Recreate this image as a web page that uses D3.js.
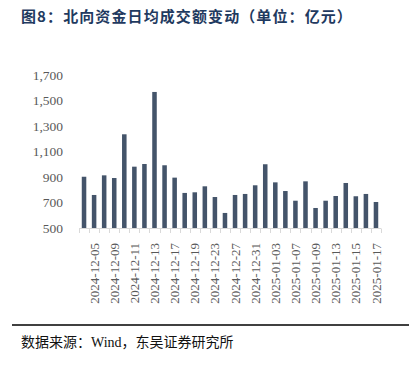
<!DOCTYPE html>
<html>
<head>
<meta charset="utf-8">
<script src="https://cdn.jsdelivr.net/npm/d3@7"></script>
<style>
  body { margin: 0; background: #fff; }
  svg { display: block; }
</style>
</head>
<body>
<div id="chart"></div>
<script>
// trading days (northbound), labels shown every other day
var dates = ["2024-12-04","2024-12-05","2024-12-06","2024-12-09","2024-12-10","2024-12-11",
  "2024-12-12","2024-12-13","2024-12-16","2024-12-17","2024-12-18","2024-12-19",
  "2024-12-20","2024-12-23","2024-12-24","2024-12-27","2024-12-30","2024-12-31",
  "2025-01-02","2025-01-03","2025-01-06","2025-01-07","2025-01-08","2025-01-09",
  "2025-01-10","2025-01-13","2025-01-14","2025-01-15","2025-01-16","2025-01-17"];
var turnover = [902, 759, 913, 892, 1235, 981, 1002, 1567, 992, 895, 775, 780,
  827, 743, 618, 759, 767, 835, 1000, 858, 790, 714, 866, 657,
  714, 751, 853, 749, 767, 704];
var yTicks = [500, 700, 900, 1100, 1300, 1500, 1700];

var W = 420, H = 365;
var svg = d3.select("#chart").append("svg")
  .attr("width", W)
  .attr("height", H);

// title
svg.append("text")
  .attr("x", 21)
  .attr("y", 22)
  .style("font-family", "'Noto Sans CJK SC', sans-serif")
  .style("font-weight", "bold")
  .style("font-size", "15px")
  .style("letter-spacing", "1.1px")
  .style("fill", "#1f3a60")
  .text("图8：北向资金日均成交额变动（单位：亿元）");

var x = d3.scaleBand()
  .domain(dates)
  .range([79, 381])
  .paddingInner(0.55)
  .paddingOuter(0.275);

var y = d3.scaleLinear()
  .domain([500, 1700])
  .range([228, 75]);

// y labels (no axis line)
svg.append("g")
  .selectAll("text")
  .data(yTicks)
  .enter()
  .append("text")
    .attr("x", 63)
    .attr("y", function(d) { return y(d); })
    .attr("dy", "0.35em")
    .attr("text-anchor", "end")
    .style("font-family", "'Liberation Serif', serif")
    .style("font-size", "13.5px")
    .style("fill", "#595959")
    .text(function(d) { return d3.format(",")(d); });

// bars
svg.append("g")
  .selectAll("rect")
  .data(dates)
  .enter()
  .append("rect")
    .attr("x", function(d) { return x(d); })
    .attr("y", function(d, i) { return y(turnover[i]); })
    .attr("width", x.bandwidth())
    .attr("height", function(d, i) { return y(500) - y(turnover[i]); })
    .style("fill", "#44546a");

// x axis line + ticks between categories
var x0 = x.range()[0], step = x.step();
var gx = svg.append("g");
gx.append("line")
  .attr("x1", x0).attr("x2", x.range()[1])
  .attr("y1", 228.5).attr("y2", 228.5)
  .style("stroke", "#d9d9d9");
gx.selectAll(".tk")
  .data(d3.range(dates.length + 1))
  .enter()
  .append("line")
    .attr("class", "tk")
    .attr("x1", function(i) { return Math.round(x0 + i * step) + 0.5; })
    .attr("x2", function(i) { return Math.round(x0 + i * step) + 0.5; })
    .attr("y1", 228.5).attr("y2", 233)
    .style("stroke", "#d9d9d9");

// rotated date labels, every other one
gx.selectAll(".lbl")
  .data(dates.filter(function(d, i) { return i % 2 === 1; }))
  .enter()
  .append("text")
    .attr("class", "lbl")
    .attr("transform", function(d) {
      return "translate(" + (x(d) + x.bandwidth() / 2) + ",243) rotate(-90)";
    })
    .attr("dy", "0.35em")
    .attr("text-anchor", "end")
    .style("font-family", "'Liberation Serif', serif")
    .style("font-size", "13px")
    .style("fill", "#595959")
    .text(function(d) { return d; });

// footer
svg.append("line")
  .attr("x1", 12).attr("x2", 409)
  .attr("y1", 325).attr("y2", 325)
  .style("stroke", "#000")
  .style("stroke-width", 1.3);

svg.append("text")
  .attr("x", 21)
  .attr("y", 347)
  .style("font-family", "'Liberation Serif', 'Noto Sans CJK SC', serif")
  .style("font-size", "14px")
  .style("fill", "#111")
  .text("数据来源：Wind，东吴证券研究所");
</script>
</body>
</html>
